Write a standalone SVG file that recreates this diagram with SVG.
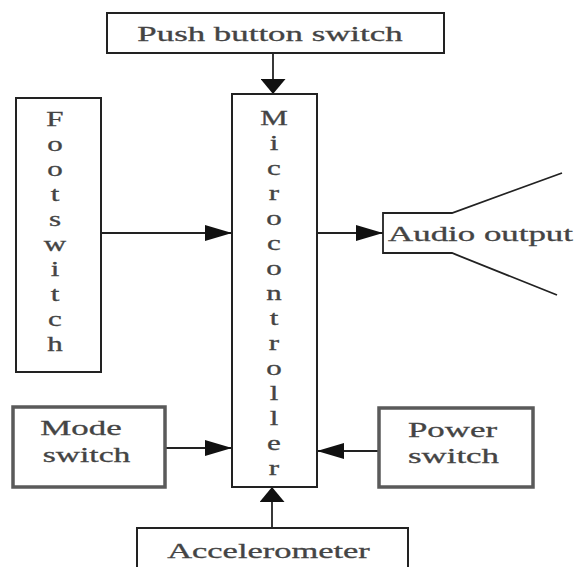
<svg xmlns="http://www.w3.org/2000/svg" width="579" height="567" viewBox="0 0 579 567">
<style>
.box{fill:#fff;stroke:#222;stroke-width:2}
.gbox{fill:#fff;stroke:#5a5a5a;stroke-width:3.5}
.t{font-family:"Liberation Serif","Times New Roman",serif;font-size:21px;fill:#444;stroke:#444;stroke-width:0.3;text-anchor:middle}
.v{font-family:"Liberation Serif","Times New Roman",serif;font-size:20px;fill:#444;stroke:#444;stroke-width:0.3;text-anchor:middle}
.c{fill:none;stroke:#222;stroke-width:1.8}
</style>
<defs>
<marker id="ah" markerUnits="userSpaceOnUse" viewBox="0 0 27 16" markerWidth="27" markerHeight="16" refX="27" refY="8" orient="auto"><path d="M0,0 L27,8 L0,16 z" fill="#111"/></marker>
<marker id="av" markerUnits="userSpaceOnUse" viewBox="0 0 15 25" markerWidth="15" markerHeight="25" refX="15" refY="12.5" orient="auto"><path d="M0,0 L15,12.5 L0,25 z" fill="#111"/></marker>
</defs>
<rect width="579" height="567" fill="#fff"/>
<g id="connectors">
<path class="c" d="M273,53 V94" marker-end="url(#av)"/>
<path class="c" d="M101,233 H232" marker-end="url(#ah)"/>
<path class="c" d="M317,233 H383" marker-end="url(#ah)"/>
<path class="c" d="M165,448 H232" marker-end="url(#ah)"/>
<path class="c" d="M379,451 H317" marker-end="url(#ah)"/>
<path class="c" d="M272,528 V487" marker-end="url(#av)"/>
</g>
<g id="push">
<rect class="box" x="107" y="13" width="337" height="40"/>
<text class="t" transform="translate(270,41) scale(1.66,1)">Push button switch</text>
</g>
<g id="footswitch">
<rect class="box" x="16" y="98" width="85" height="274"/>
<g transform="matrix(1.55,0,0,1,-30.25,0)">
<text class="v" x="55" y="126">F</text>
<text class="v" x="55" y="151">o</text>
<text class="v" x="55" y="176">o</text>
<text class="v" x="55" y="201">t</text>
<text class="v" x="55" y="226">s</text>
<text class="v" x="55" y="251">w</text>
<text class="v" x="55" y="276">i</text>
<text class="v" x="55" y="301">t</text>
<text class="v" x="55" y="326">c</text>
<text class="v" x="55" y="351">h</text>
</g>
</g>
<g id="microcontroller">
<rect class="box" x="232" y="94" width="85" height="393"/>
<g transform="matrix(1.55,0,0,1,-150.7,0)">
<text class="v" x="274" y="125">M</text>
<text class="v" x="274" y="150">i</text>
<text class="v" x="274" y="175">c</text>
<text class="v" x="274" y="200">r</text>
<text class="v" x="274" y="225">o</text>
<text class="v" x="274" y="250">c</text>
<text class="v" x="274" y="275">o</text>
<text class="v" x="274" y="300">n</text>
<text class="v" x="274" y="325">t</text>
<text class="v" x="274" y="350">r</text>
<text class="v" x="274" y="375">o</text>
<text class="v" x="274" y="400">l</text>
<text class="v" x="274" y="425">l</text>
<text class="v" x="274" y="450">e</text>
<text class="v" x="274" y="475">r</text>
</g>
</g>
<g id="audio">
<path d="M562,173 L452,213 H383 V253 H452 L557,295" fill="none" stroke="#222" stroke-width="1.8"/>
<text class="t" transform="translate(480.5,241) scale(1.66,1)">Audio output</text>
</g>
<g id="mode">
<rect class="gbox" x="13" y="407" width="152" height="80"/>
<text class="t" transform="translate(81,435) scale(1.66,1)">Mode</text>
<text class="t" transform="translate(86.5,462) scale(1.6,1)">switch</text>
</g>
<g id="power">
<rect class="gbox" x="379" y="408" width="154" height="79"/>
<text class="t" transform="translate(452.5,437) scale(1.66,1)">Power</text>
<text class="t" transform="translate(453.5,463) scale(1.66,1)">switch</text>
</g>
<g id="accelerometer">
<rect class="box" x="137" y="528" width="271" height="50" stroke="#444"/>
<text class="t" transform="translate(268.5,558) scale(1.64,1)">Accelerometer</text>
</g>
</svg>
